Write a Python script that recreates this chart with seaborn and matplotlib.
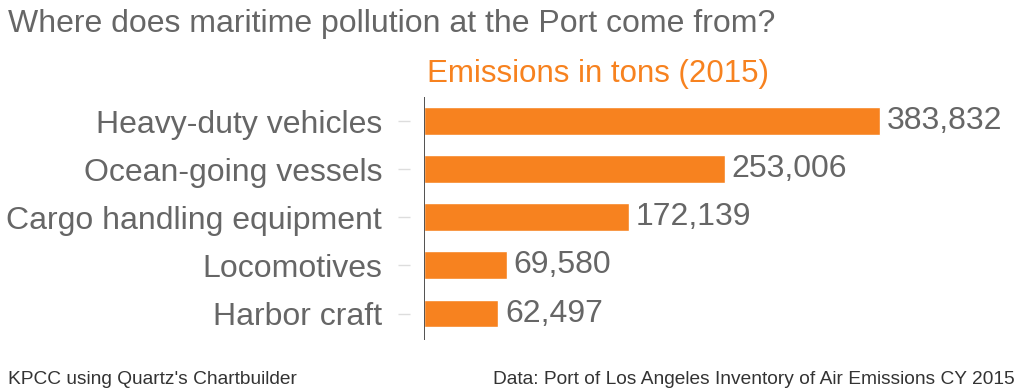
import matplotlib
matplotlib.use('Agg')
import matplotlib.pyplot as plt
import seaborn as sns

categories = ['Heavy-duty vehicles', 'Ocean-going vessels', 'Cargo handling equipment',
              'Locomotives', 'Harbor craft']
emissions = [383832, 253006, 172139, 69580, 62497]

ORANGE = '#F7821F'
GRAY = '#666666'

sns.set_style('white')
plt.rcParams['font.family'] = ['Liberation Sans', 'DejaVu Sans']

fig = plt.figure(figsize=(10.24, 3.92), dpi=100)
ax = fig.add_axes([424 / 1024, 52 / 392, 586 / 1024, 243 / 392])

sns.barplot(x=emissions, y=categories, orient='h', color=ORANGE, width=0.58,
            saturation=1, ax=ax)
ax.set_xlim(0, 493000)
ax.set_ylim(4.55, -0.5)

for lbl in ax.bar_label(ax.containers[0], labels=[f'{v:,}' for v in emissions],
                        padding=5):
    lbl.set_fontsize(23)
    lbl.set_color(GRAY)

# dark baseline at zero, offset spine carries the light tick marks
ax.axvline(0, color='#333333', lw=1.2)
for s in ['top', 'right', 'bottom']:
    ax.spines[s].set_visible(False)
ax.spines['left'].set_position(('outward', 10))
ax.spines['left'].set_visible(False)
ax.set_xticks([])
ax.tick_params(axis='y', left=True, length=8.6, width=1, color='#dddddd',
               pad=11.5, labelsize=23, labelcolor=GRAY)
ax.set_xlabel('')
ax.set_ylabel('')

fig.text(8 / 1024, 1 - 24 / 392, 'Where does maritime pollution at the Port come from?',
         fontsize=23, color=GRAY, va='center', ha='left')
fig.text(427 / 1024, 1 - 74 / 392, 'Emissions in tons (2015)',
         fontsize=22.5, color=ORANGE, va='center', ha='left')
fig.text(8 / 1024, 1 - 380 / 392, "KPCC using Quartz's Chartbuilder",
         fontsize=13.8, color='#333333', va='center', ha='left')
fig.text(1015 / 1024, 1 - 380 / 392, 'Data: Port of Los Angeles Inventory of Air Emissions CY 2015',
         fontsize=13.8, color='#333333', va='center', ha='right')

fig.savefig('out.png', dpi=100)
